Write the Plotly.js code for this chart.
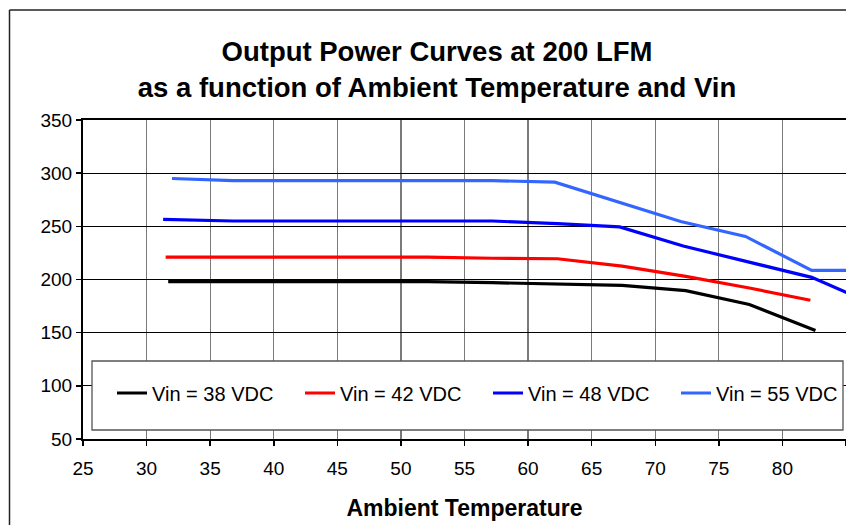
<!DOCTYPE html>
<html>
<head>
<meta charset="utf-8">
<script src="https://cdn.plot.ly/plotly-3.0.1.min.js"></script>
<style>
html,body{margin:0;padding:0;background:#fff;}
#chart{width:846px;height:525px;}
</style>
</head>
<body>
<div id="chart"></div>
<script>
// Data
const seriesNames = ["Vin = 38 VDC", "Vin = 42 VDC", "Vin = 48 VDC", "Vin = 55 VDC"];
const temp38 = [31.7, 36.8, 41.9, 47.0, 52.1, 57.2, 62.3, 67.4, 72.4, 77.4, 82.6];
const power38 = [198, 198, 198, 198, 198, 197, 196, 194.5, 189.5, 176.5, 152];
const temp42 = [31.5, 36.8, 41.9, 47.0, 52.1, 57.2, 62.3, 67.4, 72.4, 77.4, 82.2];
const power42 = [221, 221, 221, 221, 221, 220, 219.5, 212.5, 203, 192, 180.5];
const temp48 = [31.3, 36.8, 41.9, 47.0, 52.1, 57.2, 62.3, 67.2, 72.2, 77.4, 82.3, 87.5];
const power48 = [256.5, 255, 255, 255, 255, 255, 252.5, 249.5, 231.5, 216, 202, 175];
const temp55 = [32.0, 36.8, 41.9, 47.0, 52.1, 57.2, 62.1, 67.3, 72.0, 77.1, 82.3, 87.5];
const power55 = [295, 293, 293, 293, 293, 293, 291.5, 272, 254.5, 240.5, 208.5, 208.5];
const xTicks = [25, 30, 35, 40, 45, 50, 55, 60, 65, 70, 75, 80, 85];
const yTicks = [50, 100, 150, 200, 250, 300, 350];
const colors = ["#000000", "#FF0000", "#0000FF", "#3366FF"];

const temps = [temp38, temp42, temp48, temp55];
const powers = [power38, power42, power48, power55];

const traces = seriesNames.map((n, i) => ({
  x: temps[i], y: powers[i], name: n, type: "scatter", mode: "lines",
  line: {color: colors[i], width: 3.2}
}));

const FONT = "Liberation Sans, Arial, sans-serif";
const L = 83, T = 120, W = 846, H = 525, B = 86;
const pw = W - L, ph = H - T - B;
const px2x = p => (p - L) / pw;
const py2y = p => (H - B - p) / ph;

const layout = {
  width: W, height: H,
  margin: {l: L, r: 0, t: T, b: B, pad: 0, autoexpand: false},
  paper_bgcolor: "#ffffff", plot_bgcolor: "#ffffff",
  font: {family: FONT, color: "#000", size: 19},
  title: {
    text: "<b>Output Power Curves at 200 LFM<br>as a function of Ambient Temperature and Vin</b>",
    font: {family: FONT, size: 27.5, color: "#000"},
    x: 437 / W, xanchor: "center", xref: "container",
    y: 1 - 61 / H, yanchor: "top", yref: "container"
  },
  xaxis: {
    range: [25, 85], tickvals: xTicks, ticktext: xTicks.map(String),
    showgrid: true, gridcolor: "#7a7a7a", gridwidth: 1.3,
    showline: true, linecolor: "#000", linewidth: 2, mirror: true,
    ticks: "outside", ticklen: 5, tickwidth: 1.5, tickcolor: "#000",
    ticklabelstandoff: 6,
    zeroline: false, tickfont: {size: 19, family: FONT},
    title: {text: "<b>Ambient Temperature</b>", font: {size: 23, family: FONT}, standoff: 22}
  },
  yaxis: {
    range: [50, 350], tickvals: yTicks, ticktext: yTicks.map(String),
    showgrid: true, gridcolor: "#000", gridwidth: 1,
    showline: true, linecolor: "#000", linewidth: 2,
    ticks: "outside", ticklen: 5, tickwidth: 1.5, tickcolor: "#000",
    zeroline: false, tickfont: {size: 19, family: FONT}
  },
  showlegend: true,
  legend: {
    orientation: "h", x: px2x(112), xanchor: "left", y: py2y(393), yanchor: "middle",
    bgcolor: "rgba(0,0,0,0)", borderwidth: 0,
    font: {size: 20, family: FONT, color: "#000"},
    entrywidth: 143, entrywidthmode: "pixels", traceorder: "normal"
  },
  shapes: [
    {type: "rect", xref: "paper", yref: "paper", layer: "above",
     x0: px2x(92), x1: px2x(843), y0: py2y(430), y1: py2y(361),
     fillcolor: "#ffffff", line: {color: "#555", width: 1.3}},
    {type: "line", xref: "paper", yref: "paper", layer: "above",
     x0: px2x(9.5), x1: px2x(9.5), y0: py2y(10), y1: py2y(530),
     line: {color: "#222", width: 1.5}},
    {type: "line", xref: "paper", yref: "paper", layer: "above",
     x0: px2x(9.5), x1: px2x(860), y0: py2y(10), y1: py2y(10),
     line: {color: "#222", width: 1.5}}
  ]
};

Plotly.newPlot("chart", traces, layout, {staticPlot: true, displayModeBar: false});
</script>
</body>
</html>
